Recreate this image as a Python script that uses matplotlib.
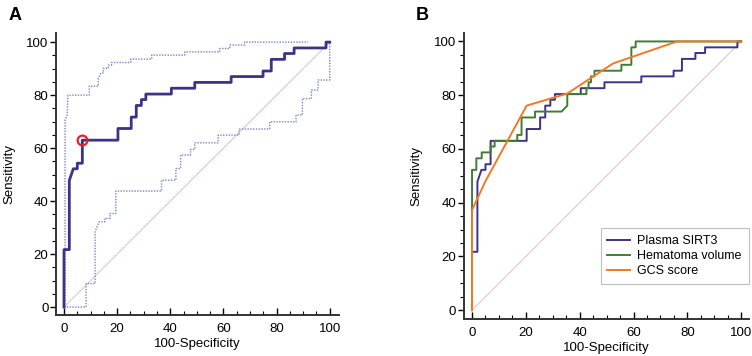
import matplotlib.pyplot as plt
from matplotlib.ticker import MultipleLocator

plt.rcParams['font.family'] = ['Liberation Sans', 'DejaVu Sans']

# ROC of plasma SIRT3 (vertices of the step curve)
sirt3_x = [0, 0, 2.0, 2.0, 3.5, 5.0, 5.0, 6.9, 6.9, 20.3, 20.3, 25.3, 25.3, 27.2, 27.2,
           29.1, 29.1, 30.8, 30.8, 40.4, 40.4, 49.2, 49.2, 62.9, 62.9, 74.9, 74.9,
           78.0, 78.0, 83.0, 83.0, 86.6, 86.6, 98.6, 98.6, 100]
sirt3_y = [0, 21.7, 21.7, 47.8, 52.2, 52.2, 54.3, 54.3, 63.0, 63.0, 67.4, 67.4, 71.7,
           71.7, 76.1, 76.1, 78.3, 78.3, 80.4, 80.4, 82.6, 82.6, 84.8, 84.8, 87.0,
           87.0, 89.1, 89.1, 93.5, 93.5, 95.7, 95.7, 97.8, 97.8, 100, 100]

# 95% CI bands
ci_up_x = [0.4, 0.4, 1.2, 1.5, 9.5, 9.5, 12.9, 12.9, 13.9, 14.8, 14.8, 16.7, 16.7, 17.9,
           17.9, 25.1, 25.1, 33.0, 33.0, 45.5, 45.5, 58.6, 58.6, 62.4, 62.4, 68.0, 68.0, 91.9]
ci_up_y = [0, 70.6, 72.5, 80.0, 80.0, 83.4, 83.4, 86.3, 88.4, 88.4, 90.1, 90.1, 91.3,
           91.3, 92.3, 92.3, 93.6, 93.6, 95.1, 95.1, 96.3, 96.3, 97.6, 97.6, 98.9, 98.9,
           100, 100]
ci_lo_x = [0, 8.3, 8.3, 11.7, 11.7, 13.2, 15.4, 15.4, 17.3, 17.3, 19.5, 19.5, 36.7, 36.7,
           42.1, 42.1, 43.9, 43.9, 47.6, 47.6, 49.2, 49.2, 58.0, 58.0, 65.9, 65.9, 77.4,
           77.4, 87.3, 87.3, 89.7, 89.7, 93.1, 93.1, 95.6, 95.6, 100, 100]
ci_lo_y = [0, 0, 8.9, 8.9, 28.5, 32.2, 32.2, 33.5, 33.5, 35.3, 35.3, 43.8, 43.8, 47.9,
           47.9, 52.3, 52.3, 57.4, 57.4, 59.5, 59.5, 62.0, 62.0, 64.9, 64.9, 67.2, 67.2,
           69.9, 69.9, 72.5, 72.5, 78.7, 78.7, 81.9, 81.9, 85.7, 85.7, 100]

# optimal cut-off point
cut_x, cut_y = 6.9, 63.0

# panel B curves
hema_x = [0, 0, 1.6, 1.6, 3.6, 3.6, 6.9, 6.9, 8.4, 8.4, 16.8, 16.8, 18.4, 18.4, 23.4,
          23.4, 33.3, 35.4, 35.4, 42.5, 42.5, 43.3, 43.3, 44.2, 44.2, 45.5, 45.5, 55.5,
          55.5, 59.2, 59.2, 60.8, 60.8, 100]
hema_y = [0, 52.2, 52.2, 56.5, 56.5, 58.7, 58.7, 60.9, 60.9, 63.0, 63.0, 65.2, 65.2,
          71.7, 71.7, 73.9, 73.9, 76.1, 80.4, 80.4, 82.6, 82.6, 84.8, 84.8, 87.0, 87.0,
          89.1, 89.1, 91.3, 91.3, 97.8, 97.8, 100, 100]
gcs_x = [0, 0, 1.7, 5.0, 20.3, 35.4, 52.4, 76.2, 100]
gcs_y = [0, 37.2, 40.9, 48.0, 76.1, 80.6, 91.8, 100, 100]

labels = ['Plasma SIRT3', 'Hematoma volume', 'GCS score']
c_sirt3 = '#3c3288'
c_hema = '#3f7d35'
c_gcs = '#f07a24'
c_ci = '#8080c8'
c_diag = '#e2c4cc'


def style_axes(ax, xlim, ylim):
    ax.set_xlim(*xlim)
    ax.set_ylim(*ylim)
    for s in ['top', 'right']:
        ax.spines[s].set_visible(False)
    for s in ['left', 'bottom']:
        ax.spines[s].set_linewidth(1.4)
        ax.spines[s].set_color('#333333')
    ax.xaxis.set_major_locator(MultipleLocator(20))
    ax.xaxis.set_minor_locator(MultipleLocator(5))
    ax.yaxis.set_major_locator(MultipleLocator(20))
    ax.yaxis.set_minor_locator(MultipleLocator(5))
    ax.tick_params(axis='x', which='major', direction='in', length=5, width=1, labelsize=9.5, pad=6)
    ax.tick_params(axis='x', which='minor', direction='in', length=3, width=0.8)
    ax.tick_params(axis='y', which='major', direction='out', length=4, width=1, labelsize=9.5, pad=1.5)
    ax.tick_params(axis='y', which='minor', direction='out', length=3, width=0.8)
    ax.set_xlabel('100-Specificity', fontsize=9.5, labelpad=2)
    ax.set_ylabel('Sensitivity', fontsize=9.5, labelpad=8)


fig = plt.figure(figsize=(7.52, 3.56), dpi=100)

# Panel A
axA = fig.add_axes([0.0745, 0.115, 0.376, 0.792])
axA.plot([0, 100], [0, 100], color=c_diag, lw=0.8)
axA.plot(ci_up_x, ci_up_y, color=c_ci, lw=1, ls=(0, (1, 1)))
axA.plot(ci_lo_x, ci_lo_y, color=c_ci, lw=1, ls=(0, (1, 1)))
axA.plot(sirt3_x, sirt3_y, color=c_sirt3, lw=2)
axA.plot([cut_x], [cut_y], marker='o', ms=7, mfc='none', mec='#e8202c', mew=1.6)
style_axes(axA, (-3, 103.4), (-3, 103.4))
fig.text(0.012, 0.945, 'A', fontsize=13, fontweight='bold')

# Panel B
axB = fig.add_axes([0.6166, 0.104, 0.379, 0.803])
axB.plot([0, 100], [0, 100], color=c_diag, lw=0.8)
axB.plot(sirt3_x, sirt3_y, color=c_sirt3, lw=1.4, label=labels[0])
axB.plot(hema_x, hema_y, color=c_hema, lw=1.4, label=labels[1])
axB.plot(gcs_x, gcs_y, color=c_gcs, lw=1.4, label=labels[2])
style_axes(axB, (-3.1, 102.8), (-3.3, 103.1))
leg = axB.legend(loc='lower right', bbox_to_anchor=(1.0, 0.122), borderaxespad=0,
                 fontsize=9, frameon=True, fancybox=False, edgecolor='#b0b0b0',
                 handlelength=1.8, handletextpad=0.6, borderpad=0.55, labelspacing=0.25)
leg.get_frame().set_linewidth(0.8)
fig.text(0.553, 0.945, 'B', fontsize=13, fontweight='bold')

fig.savefig('out.png', dpi=100)
